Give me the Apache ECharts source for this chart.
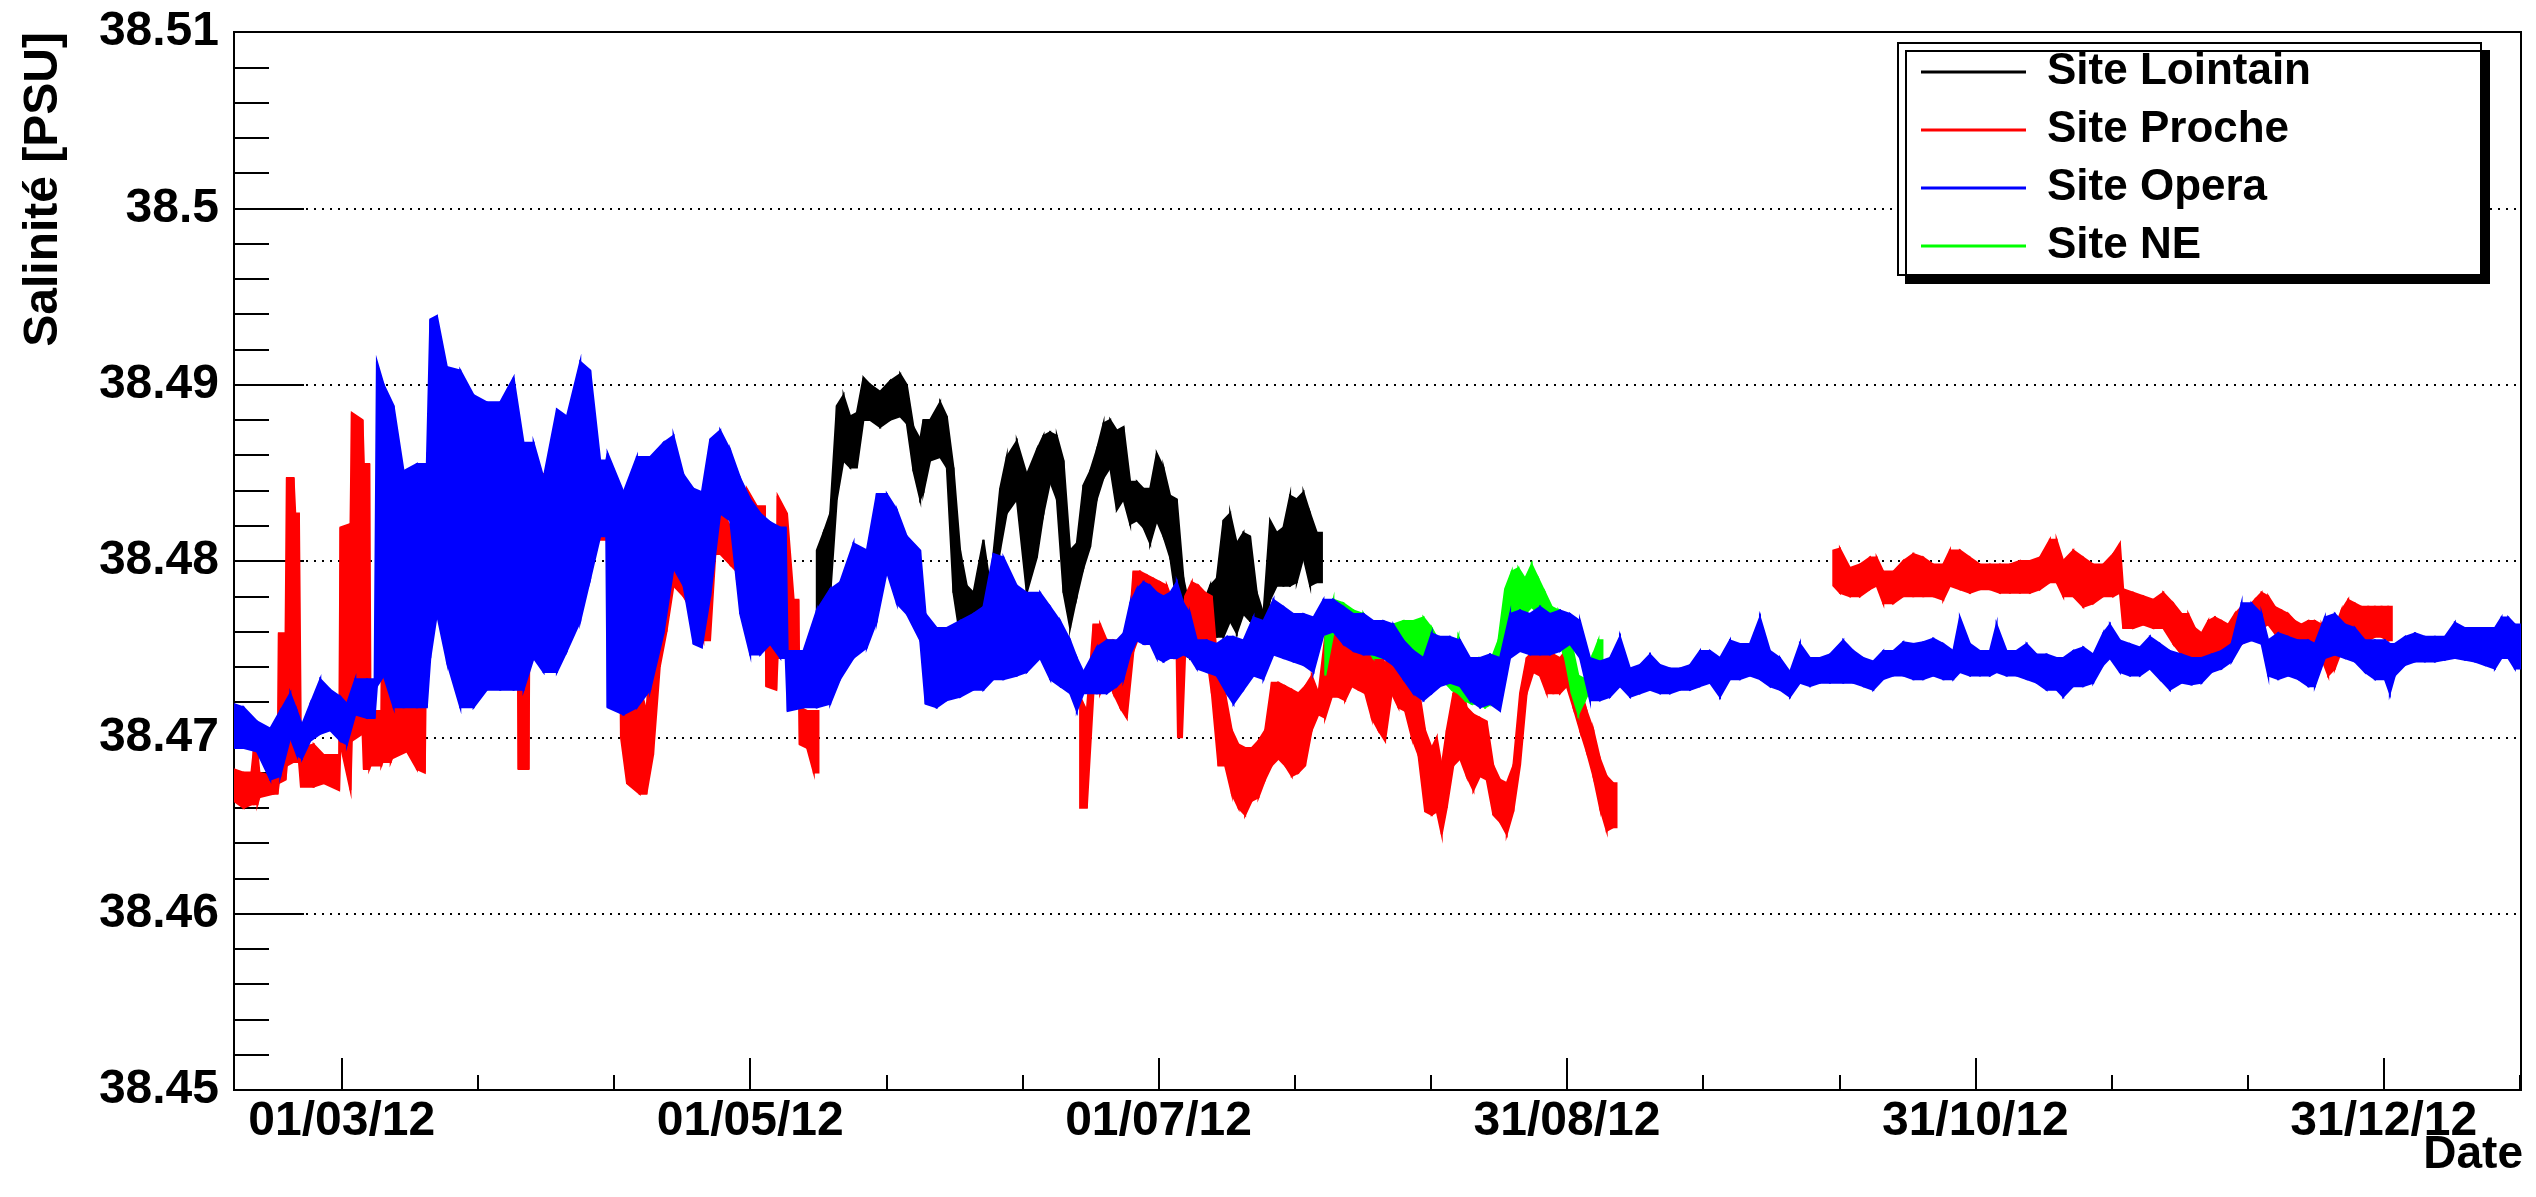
<!DOCTYPE html>
<html>
<head>
<meta charset="utf-8">
<title>Salinité</title>
<script src="https://cdn.jsdelivr.net/npm/echarts@6/dist/echarts.min.js"></script>
<style>
  html, body { margin: 0; padding: 0; background: #ffffff; }
  #chart { width: 2536px; height: 1197px; }
</style>
</head>
<body>
<div id="chart"></div>
<script>
// Time is counted in days from 01/03/2012 00:00.
const xMajorDays = [0, 61, 122, 183, 244, 305];
const xMajorLabels = ['01/03/12', '01/05/12', '01/07/12', '31/08/12', '31/10/12', '31/12/12'];
const xMinorDays = [20.33, 40.67, 81.33, 101.67, 142.33, 162.67, 203.33, 223.67, 264.33, 284.67, 325.33];

// Each sample: [day, highest salinity, lowest salinity] of the measurements
// around that day; a lone [day] closes a run of measurements.
const siteLointain = [
  [70.95, 38.4806, 38.4768], [71.95, 38.4816, 38.4772], [72.95, 38.4827, 38.4780], [73.94, 38.4888, 38.4835],
  [74.94, 38.4894, 38.4857], [75.94, 38.4882, 38.4853], [76.93, 38.4884, 38.4853], [77.92, 38.4904, 38.4880],
  [78.92, 38.4900, 38.4880], [80.41, 38.4896, 38.4876], [81.9, 38.4902, 38.4880], [83.4, 38.4906, 38.4882],
  [84.39, 38.4900, 38.4878], [85.39, 38.4876, 38.4851], [86.39, 38.4869, 38.4835], [86.88, 38.4880, 38.4839],
  [87.88, 38.4880, 38.4857], [89.37, 38.4890, 38.4859], [90.37, 38.4882, 38.4853], [91.36, 38.4853, 38.4782],
  [92.36, 38.4806, 38.4757], [93.35, 38.4786, 38.4768], [94.35, 38.4782, 38.4770], [95.84, 38.4812, 38.4762],
  [96.84, 38.4786, 38.4772], [98.33, 38.4841, 38.4806], [99.32, 38.4859, 38.4827], [100.82, 38.4868, 38.4835],
  [102.31, 38.4849, 38.4782], [103.82, 38.4863, 38.4802], [104.81, 38.4871, 38.4827], [105.81, 38.4873, 38.4845],
  [106.8, 38.4871, 38.4835], [107.8, 38.4857, 38.4782], [108.79, 38.4806, 38.4762], [109.79, 38.4810, 38.4780],
  [110.78, 38.4843, 38.4796], [111.78, 38.4851, 38.4808], [112.77, 38.4863, 38.4835], [113.77, 38.4878, 38.4847],
  [114.77, 38.4880, 38.4853], [115.76, 38.4874, 38.4829], [116.76, 38.4876, 38.4835], [117.75, 38.4845, 38.4821],
  [118.75, 38.4845, 38.4823], [119.74, 38.4841, 38.4819], [120.74, 38.4841, 38.4810], [121.73, 38.4861, 38.4823],
  [122.73, 38.4853, 38.4814], [123.73, 38.4837, 38.4802], [124.72, 38.4835, 38.4776], [125.72, 38.4790, 38.4747],
  [126.71, 38.4772, 38.4745], [127.71, 38.4776, 38.4749], [128.7, 38.4776, 38.4753], [129.7, 38.4786, 38.4757],
  [130.69, 38.4790, 38.4757], [131.69, 38.4823, 38.4757], [132.69, 38.4827, 38.4766], [133.68, 38.4810, 38.4759],
  [134.68, 38.4816, 38.4770], [135.67, 38.4814, 38.4766], [136.67, 38.4782, 38.4766], [137.66, 38.4770, 38.4759],
  [138.66, 38.4823, 38.4778], [139.65, 38.4816, 38.4786], [140.65, 38.4819, 38.4786], [141.64, 38.4837, 38.4786],
  [142.64, 38.4835, 38.4788], [143.64, 38.4839, 38.4802], [144.63, 38.4827, 38.4786], [145.63, 38.4816, 38.4788],
  [146.4]
];

const siteProche = [
  [-16.15, 38.4682, 38.4664], [-14.66, 38.4680, 38.4660], [-13.5, 38.4680, 38.4662], [-13.17, 38.4692, 38.4662],
  [-12.6, 38.4692, 38.4662], [-12.3, 38.4680, 38.4666], [-10.18, 38.4678, 38.4668], [-9.6, 38.4680, 38.4668],
  [-9.4, 38.4759, 38.4674], [-8.4, 38.4759, 38.4676], [-8.2, 38.4847, 38.4684], [-7.2, 38.4847, 38.4686],
  [-6.95, 38.4827, 38.4686], [-6.4, 38.4827, 38.4686], [-6.1, 38.4694, 38.4672], [-4.2, 38.4696, 38.4672],
  [-2.71, 38.4690, 38.4674], [-0.4, 38.4690, 38.4670], [-0.2, 38.4819, 38.4696], [1.3, 38.4821, 38.4670],
  [1.5, 38.4884, 38.4698], [3.1, 38.4880, 38.4702], [3.3, 38.4855, 38.4682], [4.1, 38.4855, 38.4682],
  [4.3, 38.4715, 38.4684], [5.9, 38.4715, 38.4684], [6.1, 38.4810, 38.4686], [7.3, 38.4806, 38.4686],
  [7.5, 38.4717, 38.4688], [9.73, 38.4719, 38.4692], [11.22, 38.4717, 38.4682], [12.4, 38.4725, 38.4680],
  [12.8, 38.4861, 38.4816], [15.21, 38.4857, 38.4808], [17.2, 38.4845, 38.4790], [19.5, 38.4855, 38.4814],
  [22.0, 38.4852, 38.4814], [24.17, 38.4850, 38.4800], [26.2, 38.4840, 38.4800], [26.4, 38.4806, 38.4682],
  [27.9, 38.4806, 38.4682], [28.1, 38.4851, 38.4806], [30.5, 38.4849, 38.4800], [32.0, 38.4840, 38.4810],
  [33.62, 38.4835, 38.4806], [35.62, 38.4830, 38.4812], [37.61, 38.4822, 38.4812], [39.6, 38.4825, 38.4812],
  [41.4, 38.4831, 38.4816], [41.7, 38.4760, 38.4700], [42.6, 38.4745, 38.4674], [44.5, 38.4729, 38.4668],
  [45.5, 38.4715, 38.4668], [46.5, 38.4766, 38.4690], [47.5, 38.4766, 38.4740], [48.5, 38.4800, 38.4760],
  [49.55, 38.4827, 38.4786], [51.04, 38.4792, 38.4780], [52.54, 38.4800, 38.4770], [54.0, 38.4790, 38.4755],
  [55.0, 38.4778, 38.4755], [55.8, 38.4833, 38.4804], [56.52, 38.4833, 38.4804], [58.01, 38.4819, 38.4798],
  [59.0, 38.4810, 38.4794], [60.5, 38.4841, 38.4819], [62.0, 38.4831, 38.4810], [63.2, 38.4831, 38.4810],
  [63.4, 38.4757, 38.4729], [64.9, 38.4755, 38.4727], [65.1, 38.4837, 38.4745], [66.5, 38.4827, 38.4745],
  [67.5, 38.4778, 38.4743], [68.2, 38.4778, 38.4743], [68.4, 38.4717, 38.4696], [69.5, 38.4715, 38.4694],
  [70.5, 38.4715, 38.4680],
  [71.2],
  [110.28, 38.4723, 38.4660], [111.28, 38.4715, 38.4660], [112.27, 38.4764, 38.4725], [113.27, 38.4764, 38.4725],
  [114.27, 38.4755, 38.4735], [115.26, 38.4755, 38.4725], [116.26, 38.4753, 38.4717], [117.25, 38.4745, 38.4711],
  [118.25, 38.4794, 38.4749], [119.24, 38.4794, 38.4759], [120.24, 38.4792, 38.4755], [121.23, 38.4790, 38.4766],
  [122.23, 38.4788, 38.4749], [123.23, 38.4786, 38.4747], [124.22, 38.4776, 38.4745], [124.7, 38.4776, 38.4745],
  [124.9, 38.4766, 38.4700], [125.5, 38.4766, 38.4700], [125.97, 38.4780, 38.4747], [126.96, 38.4788, 38.4753],
  [127.96, 38.4786, 38.4755], [128.95, 38.4782, 38.4753], [129.95, 38.4780, 38.4725], [130.94, 38.4735, 38.4684],
  [131.94, 38.4725, 38.4684], [132.94, 38.4704, 38.4668], [133.93, 38.4696, 38.4660], [134.93, 38.4694, 38.4656],
  [135.92, 38.4694, 38.4664], [136.92, 38.4698, 38.4666], [137.91, 38.4704, 38.4676], [138.91, 38.4731, 38.4684],
  [139.9, 38.4731, 38.4688], [140.9, 38.4729, 38.4684], [141.89, 38.4727, 38.4678], [142.89, 38.4725, 38.4680],
  [143.89, 38.4729, 38.4684], [144.88, 38.4735, 38.4704], [145.88, 38.4725, 38.4713], [146.87, 38.4757, 38.4711],
  [147.87, 38.4759, 38.4723], [148.86, 38.4762, 38.4723], [149.86, 38.4772, 38.4721], [150.85, 38.4772, 38.4729],
  [151.85, 38.4770, 38.4727], [152.85, 38.4766, 38.4725], [153.84, 38.4762, 38.4711], [154.84, 38.4753, 38.4704],
  [155.83, 38.4741, 38.4698], [156.83, 38.4753, 38.4725], [157.82, 38.4755, 38.4717], [158.82, 38.4749, 38.4715],
  [159.82, 38.4741, 38.4700], [160.81, 38.4729, 38.4690], [161.81, 38.4704, 38.4658], [162.8, 38.4694, 38.4656],
  [163.55, 38.4700, 38.4658], [164.29, 38.4684, 38.4645], [165.04, 38.4704, 38.4660], [166.03, 38.4725, 38.4684],
  [167.03, 38.4735, 38.4688], [168.02, 38.4717, 38.4678], [169.02, 38.4713, 38.4670], [170.01, 38.4711, 38.4678],
  [171.01, 38.4709, 38.4676], [172.0, 38.4684, 38.4656], [173.0, 38.4676, 38.4652], [174.0, 38.4674, 38.4645],
  [174.99, 38.4684, 38.4658], [175.99, 38.4725, 38.4684], [176.98, 38.4745, 38.4725], [177.98, 38.4749, 38.4737],
  [178.97, 38.4747, 38.4735], [179.97, 38.4747, 38.4725], [180.96, 38.4747, 38.4725], [181.96, 38.4745, 38.4725],
  [182.96, 38.4750, 38.4729], [183.95, 38.4745, 38.4717], [184.95, 38.4729, 38.4704], [185.94, 38.4715, 38.4692],
  [186.94, 38.4704, 38.4678], [187.93, 38.4688, 38.4660], [188.93, 38.4678, 38.4647], [189.92, 38.4674, 38.4649],
  [190.4],
  [222.78, 38.4806, 38.4786], [223.77, 38.4807, 38.4782], [225.27, 38.4796, 38.4780], [226.76, 38.4798, 38.4780],
  [228.25, 38.4802, 38.4784], [229.25, 38.4802, 38.4786], [230.24, 38.4794, 38.4776], [231.74, 38.4794, 38.4776],
  [233.23, 38.4800, 38.4780], [234.72, 38.4804, 38.4780], [236.22, 38.4802, 38.4780], [237.71, 38.4798, 38.4780],
  [239.2, 38.4798, 38.4778], [240.2, 38.4806, 38.4786], [241.69, 38.4806, 38.4784], [243.19, 38.4802, 38.4782],
  [244.68, 38.4798, 38.4784], [246.17, 38.4798, 38.4784], [247.67, 38.4798, 38.4782], [249.16, 38.4798, 38.4782],
  [250.65, 38.4800, 38.4782], [252.15, 38.4800, 38.4782], [253.64, 38.4802, 38.4784], [255.13, 38.4812, 38.4788],
  [256.13, 38.4812, 38.4788], [257.12, 38.4800, 38.4780], [258.62, 38.4806, 38.4780], [260.11, 38.4802, 38.4774],
  [261.61, 38.4798, 38.4776], [263.1, 38.4798, 38.4780], [264.59, 38.4804, 38.4780], [265.59, 38.4810, 38.4782],
  [266.08, 38.4784, 38.4762], [267.58, 38.4782, 38.4762], [269.07, 38.4780, 38.4764], [270.57, 38.4778, 38.4762],
  [272.06, 38.4782, 38.4762], [273.56, 38.4776, 38.4753], [274.8, 38.4770, 38.4747], [275.8, 38.4770, 38.4745],
  [276.79, 38.4762, 38.4743], [277.79, 38.4759, 38.4740], [278.78, 38.4766, 38.4745], [279.78, 38.4768, 38.4747],
  [280.77, 38.4766, 38.4749], [281.77, 38.4764, 38.4751], [282.76, 38.4770, 38.4749], [283.76, 38.4774, 38.4753],
  [284.75, 38.4774, 38.4755], [285.75, 38.4778, 38.4757], [286.75, 38.4782, 38.4762], [287.74, 38.4780, 38.4764],
  [288.74, 38.4774, 38.4759], [289.73, 38.4772, 38.4757], [290.73, 38.4770, 38.4757], [291.72, 38.4766, 38.4755],
  [292.72, 38.4764, 38.4755], [293.72, 38.4766, 38.4753], [294.71, 38.4766, 38.4751], [295.71, 38.4764, 38.4745],
  [296.7, 38.4755, 38.4735], [297.7, 38.4762, 38.4739], [298.69, 38.4772, 38.4749], [299.69, 38.4778, 38.4762],
  [300.68, 38.4776, 38.4762], [301.68, 38.4774, 38.4755], [302.68, 38.4774, 38.4755], [303.67, 38.4774, 38.4757],
  [304.67, 38.4774, 38.4757], [305.66, 38.4774, 38.4755],
  [306.2]
];

const siteOpera = [
  [-16.15, 38.4719, 38.4694], [-14.66, 38.4717, 38.4694], [-12.67, 38.4709, 38.4692], [-10.68, 38.4705, 38.4676],
  [-9.18, 38.4715, 38.4678], [-7.69, 38.4725, 38.4700], [-6.7, 38.4715, 38.4690], [-5.95, 38.4707, 38.4688],
  [-4.7, 38.4719, 38.4698], [-3.21, 38.4733, 38.4702], [-1.72, 38.4727, 38.4704], [-0.22, 38.4723, 38.4698],
  [0.77, 38.4719, 38.4696], [2.02, 38.4733, 38.4713], [3.76, 38.4733, 38.4711], [4.9, 38.4733, 38.4711],
  [5.25, 38.4913, 38.4729], [6.25, 38.4900, 38.4735], [7.74, 38.4888, 38.4717], [9.23, 38.4851, 38.4717],
  [11.22, 38.4855, 38.4717], [12.7, 38.4855, 38.4717], [13.22, 38.4937, 38.4745], [14.21, 38.4939, 38.4770],
  [15.7, 38.4910, 38.4743], [17.7, 38.4908, 38.4717], [19.69, 38.4894, 38.4717], [21.68, 38.4890, 38.4727],
  [23.67, 38.4890, 38.4727], [25.66, 38.4904, 38.4727], [27.15, 38.4867, 38.4727], [28.65, 38.4867, 38.4745],
  [30.14, 38.4847, 38.4737], [32.13, 38.4886, 38.4737], [33.62, 38.4882, 38.4749], [35.62, 38.4913, 38.4766],
  [37.11, 38.4908, 38.4790], [38.6, 38.4857, 38.4814], [39.5, 38.4857, 38.4814], [39.7, 38.4861, 38.4717],
  [42.08, 38.4839, 38.4713], [44.08, 38.4859, 38.4717], [46.07, 38.4859, 38.4727], [48.06, 38.4867, 38.4759],
  [49.55, 38.4871, 38.4796], [51.04, 38.4849, 38.4786], [52.54, 38.4841, 38.4753], [53.78, 38.4839, 38.4751],
  [55.03, 38.4869, 38.4780], [56.52, 38.4874, 38.4827], [58.01, 38.4863, 38.4823], [59.51, 38.4847, 38.4770],
  [61.0, 38.4835, 38.4747], [62.5, 38.4827, 38.4747], [64.0, 38.4822, 38.4753], [65.5, 38.4819, 38.4745],
  [66.3, 38.4819, 38.4745], [66.6, 38.4749, 38.4715], [68.96, 38.4749, 38.4717], [70.95, 38.4772, 38.4717],
  [72.95, 38.4784, 38.4719], [74.44, 38.4788, 38.4733], [76.43, 38.4810, 38.4745], [78.42, 38.4806, 38.4751],
  [79.91, 38.4838, 38.4766], [81.41, 38.4838, 38.4794], [82.9, 38.4829, 38.4776], [84.39, 38.4814, 38.4770],
  [86.39, 38.4806, 38.4755], [87.2, 38.4770, 38.4719], [88.87, 38.4762, 38.4717], [90.37, 38.4762, 38.4721],
  [92.36, 38.4766, 38.4723], [94.35, 38.4770, 38.4727], [95.84, 38.4774, 38.4727], [97.34, 38.4804, 38.4733],
  [98.83, 38.4802, 38.4733], [100.82, 38.4786, 38.4735], [102.31, 38.4782, 38.4737], [104.31, 38.4782, 38.4745],
  [105.81, 38.4774, 38.4733], [107.3, 38.4766, 38.4729], [108.79, 38.4755, 38.4725], [109.79, 38.4745, 38.4715],
  [110.78, 38.4737, 38.4725], [112.77, 38.4751, 38.4725], [114.27, 38.4755, 38.4725], [115.76, 38.4755, 38.4729],
  [116.76, 38.4759, 38.4733], [117.75, 38.4776, 38.4747], [118.75, 38.4784, 38.4755], [119.74, 38.4788, 38.4753],
  [120.74, 38.4786, 38.4753], [121.73, 38.4782, 38.4745], [122.73, 38.4780, 38.4743], [123.73, 38.4782, 38.4745],
  [124.72, 38.4788, 38.4745], [125.72, 38.4776, 38.4747], [126.71, 38.4770, 38.4745], [127.71, 38.4755, 38.4739],
  [129.2, 38.4755, 38.4737], [130.69, 38.4753, 38.4735], [132.19, 38.4757, 38.4725], [133.18, 38.4757, 38.4719],
  [134.68, 38.4755, 38.4727], [136.17, 38.4768, 38.4735], [137.66, 38.4766, 38.4733], [139.16, 38.4778, 38.4747],
  [140.65, 38.4774, 38.4745], [142.14, 38.4770, 38.4743], [143.64, 38.4770, 38.4741], [145.13, 38.4768, 38.4737],
  [146.62, 38.4778, 38.4758], [148.11, 38.4778, 38.4760], [149.61, 38.4774, 38.4753], [151.1, 38.4770, 38.4749],
  [152.6, 38.4770, 38.4747], [154.09, 38.4766, 38.4747], [155.58, 38.4766, 38.4745], [157.07, 38.4764, 38.4741],
  [158.57, 38.4755, 38.4733], [160.06, 38.4749, 38.4725], [161.56, 38.4745, 38.4721], [162.8, 38.4759, 38.4725],
  [164.04, 38.4757, 38.4729], [165.54, 38.4757, 38.4731], [167.03, 38.4755, 38.4729], [168.52, 38.4745, 38.4721],
  [170.02, 38.4745, 38.4717], [171.51, 38.4747, 38.4719], [173.0, 38.4745, 38.4715], [174.5, 38.4770, 38.4745],
  [175.99, 38.4772, 38.4749], [177.48, 38.4770, 38.4747], [178.98, 38.4774, 38.4747], [180.47, 38.4770, 38.4747],
  [181.96, 38.4772, 38.4749], [183.45, 38.4770, 38.4753], [184.95, 38.4766, 38.4745], [186.44, 38.4745, 38.4721],
  [187.93, 38.4743, 38.4721], [189.43, 38.4745, 38.4723], [190.92, 38.4757, 38.4729], [192.42, 38.4739, 38.4723],
  [193.91, 38.4741, 38.4725], [195.4, 38.4747, 38.4727], [196.9, 38.4741, 38.4725], [198.39, 38.4739, 38.4725],
  [199.88, 38.4739, 38.4727], [201.38, 38.4741, 38.4727], [202.87, 38.4749, 38.4729], [204.36, 38.4749, 38.4731],
  [205.86, 38.4745, 38.4723], [207.35, 38.4755, 38.4733], [208.84, 38.4753, 38.4733], [210.33, 38.4753, 38.4735],
  [211.83, 38.4768, 38.4733], [213.32, 38.4749, 38.4729], [214.82, 38.4745, 38.4727], [216.31, 38.4737, 38.4723],
  [217.8, 38.4753, 38.4731], [219.3, 38.4745, 38.4729], [220.79, 38.4745, 38.4731], [222.28, 38.4747, 38.4731],
  [224.27, 38.4755, 38.4731], [225.77, 38.4749, 38.4731], [227.26, 38.4745, 38.4729], [228.75, 38.4743, 38.4727],
  [230.24, 38.4749, 38.4733], [231.74, 38.4749, 38.4735], [233.23, 38.4754, 38.4735], [234.72, 38.4753, 38.4733],
  [236.22, 38.4754, 38.4733], [237.71, 38.4756, 38.4735], [239.2, 38.4753, 38.4733], [240.7, 38.4749, 38.4733],
  [241.69, 38.4768, 38.4737], [243.19, 38.4753, 38.4735], [244.68, 38.4749, 38.4735], [246.17, 38.4749, 38.4735],
  [247.17, 38.4764, 38.4737], [248.66, 38.4749, 38.4735], [250.15, 38.4749, 38.4735], [251.65, 38.4753, 38.4733],
  [253.14, 38.4747, 38.4731], [254.64, 38.4747, 38.4727], [256.13, 38.4745, 38.4727], [257.12, 38.4745, 38.4723],
  [258.62, 38.4749, 38.4729], [260.11, 38.4751, 38.4729], [261.61, 38.4747, 38.4731], [263.1, 38.4759, 38.4741],
  [264.09, 38.4764, 38.4745], [265.59, 38.4755, 38.4737], [267.08, 38.4753, 38.4735], [268.58, 38.4751, 38.4735],
  [270.07, 38.4757, 38.4739], [271.57, 38.4753, 38.4733], [273.06, 38.4749, 38.4727], [274.8, 38.4747, 38.4731],
  [276.29, 38.4745, 38.4730], [277.79, 38.4745, 38.4731], [279.28, 38.4747, 38.4737], [280.77, 38.4749, 38.4739],
  [282.26, 38.4753, 38.4743], [283.76, 38.4776, 38.4753], [285.25, 38.4776, 38.4755], [286.75, 38.4770, 38.4753],
  [287.74, 38.4755, 38.4735], [289.23, 38.4759, 38.4733], [290.73, 38.4757, 38.4735], [292.22, 38.4755, 38.4733],
  [293.72, 38.4755, 38.4729], [294.71, 38.4753, 38.4729], [296.2, 38.4768, 38.4745], [297.7, 38.4770, 38.4747],
  [299.19, 38.4764, 38.4745], [300.68, 38.4762, 38.4743], [302.18, 38.4755, 38.4737], [303.67, 38.4755, 38.4733],
  [305.16, 38.4755, 38.4733], [305.91, 38.4753, 38.4725], [306.66, 38.4753, 38.4735], [308.16, 38.4757, 38.4741],
  [309.65, 38.4759, 38.4743], [311.14, 38.4757, 38.4743], [312.64, 38.4757, 38.4743], [314.13, 38.4757, 38.4744],
  [315.62, 38.4765, 38.4745], [317.12, 38.4762, 38.4744], [318.61, 38.4762, 38.4743], [320.1, 38.4762, 38.4741],
  [321.6, 38.4762, 38.4739], [322.59, 38.4768, 38.4745], [323.59, 38.4768, 38.4745], [324.58, 38.4764, 38.4739],
  [325.5]
];

const siteNE = [
  [146.9, 38.4759, 38.4735], [148.11, 38.4778, 38.4759], [149.61, 38.4776, 38.4757], [151.1, 38.4772, 38.4753],
  [152.6, 38.4770, 38.4753], [154.09, 38.4759, 38.4745], [155.58, 38.4762, 38.4745], [157.07, 38.4764, 38.4745],
  [158.57, 38.4766, 38.4747], [160.06, 38.4766, 38.4737], [161.56, 38.4768, 38.4729], [162.8, 38.4762, 38.4733],
  [163.8, 38.4755, 38.4733], [164.79, 38.4753, 38.4731], [165.79, 38.4745, 38.4727], [166.78, 38.4757, 38.4725],
  [167.78, 38.4747, 38.4721], [168.77, 38.4743, 38.4719], [169.77, 38.4745, 38.4719], [170.77, 38.4745, 38.4717],
  [171.76, 38.4745, 38.4719], [172.76, 38.4755, 38.4725], [173.75, 38.4784, 38.4747], [174.75, 38.4794, 38.4770],
  [175.74, 38.4796, 38.4772], [176.74, 38.4790, 38.4770], [177.73, 38.4798, 38.4774], [178.73, 38.4790, 38.4770],
  [179.73, 38.4782, 38.4766], [180.72, 38.4774, 38.4762], [181.72, 38.4772, 38.4755], [182.71, 38.4766, 38.4745],
  [183.71, 38.4753, 38.4725], [184.7, 38.4735, 38.4713], [185.7, 38.4733, 38.4721], [186.69, 38.4745, 38.4729],
  [187.69, 38.4755, 38.4737],
  [188.3]
];

const FONT = '"Liberation Sans", Arial, Helvetica, sans-serif';

// Turn samples into [start, end, highStart, lowStart, highEnd, lowEnd] pieces.
function toPieces(samples) {
  const out = [];
  for (let i = 0; i < samples.length - 1; i++) {
    const s = samples[i];
    if (s.length < 3) continue;
    const n = samples[i + 1];
    const hiEnd = n.length < 3 ? s[1] : n[1];
    const loEnd = n.length < 3 ? s[2] : n[2];
    out.push([s[0], n[0], s[1], s[2], hiEnd, loEnd]);
  }
  return out;
}

// One filled piece of the band between two consecutive samples.
function renderBand(params, api) {
  const t0 = api.value(0), t1 = api.value(1);
  const pts = [
    api.coord([t0, api.value(2)]),
    api.coord([t1, api.value(4)]),
    api.coord([t1, api.value(5)]),
    api.coord([t0, api.value(3)])
  ];
  const color = api.visual('color');
  return {
    type: 'polygon',
    shape: { points: pts },
    style: { fill: color, stroke: color, lineWidth: 2 }
  };
}

function bandSeries(name, color, samples) {
  return {
    type: 'custom',
    name: name,
    renderItem: renderBand,
    data: toPieces(samples),
    encode: { x: [0, 1], y: [2, 3, 4, 5] },
    itemStyle: { color: color },
    xAxisIndex: 0,
    yAxisIndex: 0,
    silent: true,
    clip: true
  };
}

function dayLabel(v) {
  for (let i = 0; i < xMajorDays.length; i++) {
    if (Math.abs(xMajorDays[i] - v) < 0.01) return xMajorLabels[i];
  }
  return '';
}

const chart = echarts.init(document.getElementById('chart'), null, { renderer: 'canvas' });

const option = {
  animation: false,
  backgroundColor: '#ffffff',
  grid: {
    left: 234, right: 15, top: 32, bottom: 107,
    show: true, borderColor: '#000000', borderWidth: 2,
    containLabel: false, outerBoundsMode: 'none'
  },
  xAxis: [{
    type: 'value', min: -16.1, max: 325.5, position: 'bottom',
    axisLine: { show: true, onZero: false, lineStyle: { color: '#000000', width: 2 } },
    axisTick: { show: true, inside: true, length: 32, customValues: xMajorDays,
                lineStyle: { color: '#000000', width: 2 } },
    axisLabel: { show: true, customValues: xMajorDays, formatter: dayLabel, margin: 8,
                 fontFamily: FONT, fontWeight: 'bold', fontSize: 48, color: '#000000' },
    splitLine: { show: false }
  }, {
    type: 'value', min: -16.1, max: 325.5, position: 'bottom',
    axisLine: { show: false, onZero: false },
    axisTick: { show: true, inside: true, length: 15, customValues: xMinorDays,
                lineStyle: { color: '#000000', width: 2 } },
    axisLabel: { show: false },
    splitLine: { show: false }
  }],
  yAxis: {
    type: 'value', min: 38.45, max: 38.51, interval: 0.01,
    axisLine: { show: true, onZero: false, lineStyle: { color: '#000000', width: 2 } },
    axisTick: { show: true, inside: true, length: 70, lineStyle: { color: '#000000', width: 2 } },
    minorTick: { show: true, splitNumber: 5, length: 35, lineStyle: { color: '#000000', width: 2 } },
    axisLabel: { margin: 15, formatter: v => String(parseFloat(v.toFixed(2))),
                 fontFamily: FONT, fontWeight: 'bold', fontSize: 48, color: '#000000' },
    splitLine: { show: true, lineStyle: { color: '#000000', width: 2, type: [2, 6] } },
    minorSplitLine: { show: false }
  },
  legend: {
    orient: 'vertical', left: 1898, top: 43,
    data: ['Site Lointain', 'Site Proche', 'Site Opera', 'Site NE'],
    icon: 'rect', itemWidth: 105, itemHeight: 3, itemGap: 14,
    padding: [7, 170, 7, 23],
    backgroundColor: '#ffffff', borderColor: '#000000', borderWidth: 2,
    shadowColor: '#000000', shadowBlur: 0, shadowOffsetX: 8, shadowOffsetY: 8,
    selectedMode: false,
    textStyle: { fontFamily: FONT, fontWeight: 'bold', fontSize: 44, lineHeight: 44, color: '#000000',
                 padding: [0, 0, 0, 16] }
  },
  graphic: [{
    type: 'text', x: 44, y: 32, rotation: Math.PI / 2, silent: true,
    style: { text: 'Salinité [PSU]', font: 'bold 48px ' + FONT, fill: '#000000',
             align: 'right', verticalAlign: 'middle', textAlign: 'right', textVerticalAlign: 'middle' }
  }, {
    type: 'text', x: 2523, y: 1132, silent: true,
    style: { text: 'Date', font: 'bold 46px ' + FONT, fill: '#000000',
             align: 'right', verticalAlign: 'top', textAlign: 'right', textVerticalAlign: 'top' }
  }],
  series: [
    bandSeries('Site Lointain', '#000000', siteLointain),
    bandSeries('Site Proche', '#ff0000', siteProche),
    bandSeries('Site NE', '#00ff00', siteNE),
    bandSeries('Site Opera', '#0000ff', siteOpera)
  ]
};

chart.setOption(option);
</script>
</body>
</html>
